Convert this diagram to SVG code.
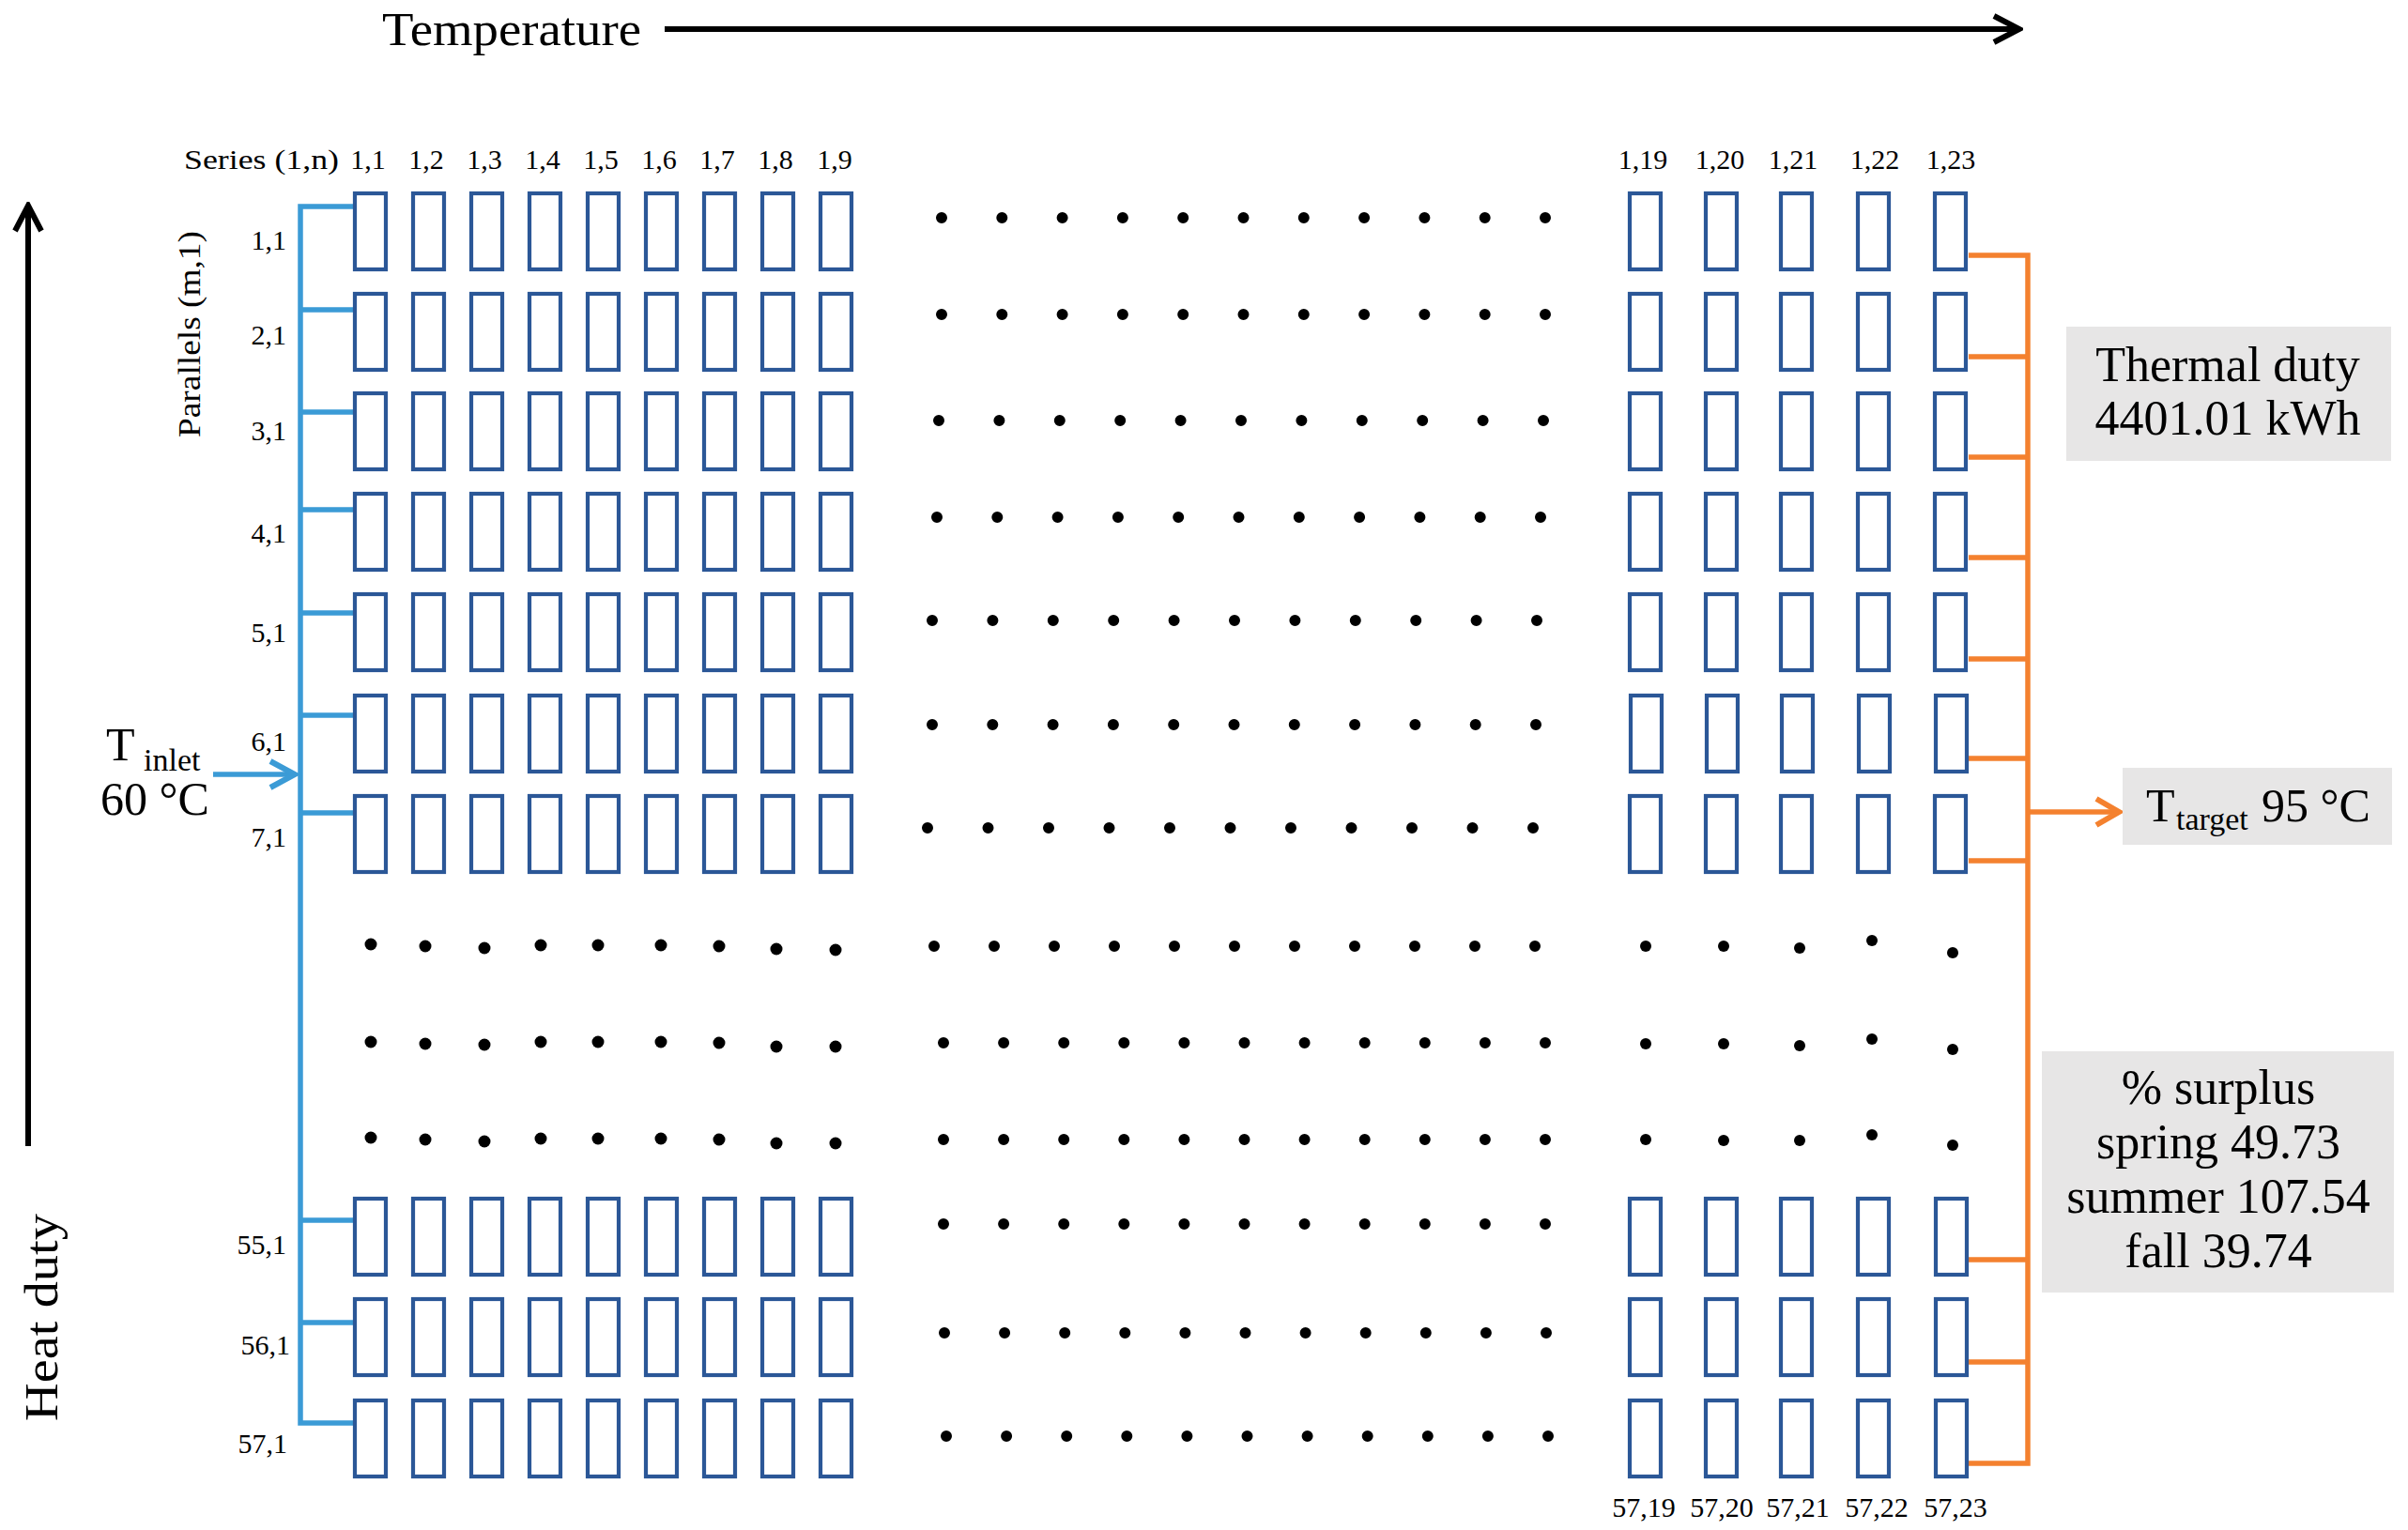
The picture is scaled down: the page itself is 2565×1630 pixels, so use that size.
<svg xmlns="http://www.w3.org/2000/svg" xmlns:xlink="http://www.w3.org/1999/xlink" width="2565" height="1630" viewBox="0 0 2565 1630">
<style>
.t{font-family:"Liberation Serif","Times New Roman",serif;fill:#000}
.big{font-size:52px}
.sm{font-size:30px}
.lbl{font-size:30px;text-anchor:middle}
.rl{font-size:30px;text-anchor:end}
.box{fill:#E7E6E6}
.dots{stroke:#000;stroke-width:12;stroke-linecap:round;fill:none;stroke-dasharray:0 64.3}
.bl{stroke:#3B9BD6;stroke-width:5.5;fill:none}
.or{stroke:#F4812F;stroke-width:5.5;fill:none}
.ax{stroke:#000;stroke-width:6;fill:none}
</style>
<defs>
<rect id="cell" x="2" y="2" width="33" height="81" fill="none" stroke="#2B5797" stroke-width="4.2"/>
<marker id="hk" viewBox="-32 -18 36 36" refX="0" refY="0" markerWidth="36" markerHeight="36" markerUnits="userSpaceOnUse" orient="auto">
<path d="M-27,-14 L0,0 L-27,14" fill="none" stroke="#000" stroke-width="6"/>
</marker>
<marker id="hb" viewBox="-32 -18 36 36" refX="0" refY="0" markerWidth="36" markerHeight="36" markerUnits="userSpaceOnUse" orient="auto">
<path d="M-26,-14 L0,0 L-26,14" fill="none" stroke="#3B9BD6" stroke-width="6"/>
</marker>
<marker id="ho" viewBox="-32 -18 36 36" refX="0" refY="0" markerWidth="36" markerHeight="36" markerUnits="userSpaceOnUse" orient="auto">
<path d="M-24,-14 L0,0 L-24,14" fill="none" stroke="#F4812F" stroke-width="6"/>
</marker>
</defs>
<rect width="2565" height="1630" fill="#fff"/>

<g id="axes">
<text class="t" x="407" y="48" font-size="50" textLength="276" lengthAdjust="spacingAndGlyphs">Temperature</text>
<line class="ax" x1="708" y1="31" x2="2151" y2="31" marker-end="url(#hk)"/>
<line class="ax" x1="30" y1="1221" x2="30" y2="219" marker-end="url(#hk)"/>
<text class="t" transform="translate(61,1514) rotate(-90)" font-size="50" textLength="221" lengthAdjust="spacingAndGlyphs">Heat duty</text>
<text class="t" transform="translate(213,466) rotate(-90)" font-size="34" textLength="220" lengthAdjust="spacingAndGlyphs">Parallels (m,1)</text>
<text class="t sm" x="196" y="180" textLength="165" lengthAdjust="spacingAndGlyphs">Series (1,n)</text>
</g>

<g id="col-labels">
<text class="t lbl" x="392" y="180">1,1</text>
<text class="t lbl" x="454" y="180">1,2</text>
<text class="t lbl" x="516" y="180">1,3</text>
<text class="t lbl" x="578" y="180">1,4</text>
<text class="t lbl" x="640" y="180">1,5</text>
<text class="t lbl" x="702" y="180">1,6</text>
<text class="t lbl" x="764" y="180">1,7</text>
<text class="t lbl" x="826" y="180">1,8</text>
<text class="t lbl" x="889" y="180">1,9</text>
<text class="t lbl" x="1750" y="180">1,19</text>
<text class="t lbl" x="1832" y="180">1,20</text>
<text class="t lbl" x="1910" y="180">1,21</text>
<text class="t lbl" x="1997" y="180">1,22</text>
<text class="t lbl" x="2078" y="180">1,23</text>
<text class="t lbl" x="1751" y="1616">57,19</text>
<text class="t lbl" x="1834" y="1616">57,20</text>
<text class="t lbl" x="1915" y="1616">57,21</text>
<text class="t lbl" x="1999" y="1616">57,22</text>
<text class="t lbl" x="2083" y="1616">57,23</text>
</g>

<g id="row-labels">
<text class="t rl" x="305" y="266">1,1</text>
<text class="t rl" x="305" y="367">2,1</text>
<text class="t rl" x="305" y="469">3,1</text>
<text class="t rl" x="305" y="578">4,1</text>
<text class="t rl" x="305" y="684">5,1</text>
<text class="t rl" x="305" y="800">6,1</text>
<text class="t rl" x="305" y="902">7,1</text>
<text class="t rl" x="305" y="1336">55,1</text>
<text class="t rl" x="309" y="1443">56,1</text>
<text class="t rl" x="306" y="1548">57,1</text>
</g>

<g id="connectors">
<path class="bl" d="M376,220 H320 V1516 H376 M320,330 H376 M320,439 H376 M320,543 H376 M320,653 H376 M320,762 H376 M320,866 H376 M320,1300 H376 M320,1409 H376"/>
<line class="bl" x1="227" y1="825" x2="314" y2="825" marker-end="url(#hb)"/>
<path class="or" d="M2097,272 H2160 V1559 H2097 M2097,380 H2160 M2097,487 H2160 M2097,594 H2160 M2097,702 H2160 M2097,808 H2160 M2097,917 H2160 M2097,1342 H2160 M2097,1451 H2160"/>
<line class="or" x1="2160" y1="865" x2="2257" y2="865" marker-end="url(#ho)"/>
</g>

<g id="inlet">
<text class="t" x="113" y="810" font-size="50">T</text>
<text class="t" x="153" y="821" font-size="34">inlet</text>
<text class="t" x="107" y="868" font-size="50">60 °C</text>
</g>

<g id="target">
<rect class="box" x="2261" y="818" width="287" height="82"/>
<text class="t" x="2286" y="875" font-size="50">T</text>
<text class="t" x="2318" y="884" font-size="34">target</text>
<text class="t" x="2409" y="875" font-size="50">95 °C</text>
</g>

<g id="thermal-duty">
<rect class="box" x="2201" y="348" width="346" height="143"/>
<text class="t big" x="2373" y="406" text-anchor="middle">Thermal duty</text>
<text class="t big" x="2373" y="463" text-anchor="middle">4401.01 kWh</text>
</g>

<g id="surplus">
<rect class="box" x="2175" y="1120" width="375" height="257"/>
<text class="t big" x="2363" y="1176" text-anchor="middle">% surplus</text>
<text class="t big" x="2363" y="1234" text-anchor="middle">spring 49.73</text>
<text class="t big" x="2363" y="1292" text-anchor="middle">summer 107.54</text>
<text class="t big" x="2363" y="1350" text-anchor="middle">fall 39.74</text>
</g>

<g id="dots">
<path class="dots" d="M1003,232 H1646.5 M1003,335 H1646.5"/>
<path class="dots" style="stroke-dasharray:0 64.4" d="M1000,448 H1644.5"/>
<path class="dots" style="stroke-dasharray:0 64.3" d="M998,551 H1641.5"/>
<path class="dots" style="stroke-dasharray:0 64.4" d="M993,661 H1637.5"/>
<path class="dots" style="stroke-dasharray:0 64.3" d="M993,772 H1636.5"/>
<path class="dots" style="stroke-dasharray:0 64.5" d="M988,882 H1633.5"/>
<path class="dots" style="stroke-dasharray:0 64" d="M995,1008 H1635.5"/>
<path class="dots" style="stroke-dasharray:0 64.1" d="M1005,1111 H1646.5 M1005,1214 H1646.5 M1005,1304 H1646.5 M1006,1420 H1647.5 M1008,1530 H1649.5"/>
<g fill="#000">
<circle cx="395" cy="1006" r="6.5"/><circle cx="453" cy="1008" r="6.5"/><circle cx="516" cy="1010" r="6.5"/><circle cx="576" cy="1007" r="6.5"/><circle cx="637" cy="1007" r="6.5"/><circle cx="704" cy="1007" r="6.5"/><circle cx="766" cy="1008" r="6.5"/><circle cx="827" cy="1011" r="6.5"/><circle cx="890" cy="1012" r="6.5"/>
<circle cx="395" cy="1110" r="6.5"/><circle cx="453" cy="1112" r="6.5"/><circle cx="516" cy="1113" r="6.5"/><circle cx="576" cy="1110" r="6.5"/><circle cx="637" cy="1110" r="6.5"/><circle cx="704" cy="1110" r="6.5"/><circle cx="766" cy="1111" r="6.5"/><circle cx="827" cy="1115" r="6.5"/><circle cx="890" cy="1115" r="6.5"/>
<circle cx="395" cy="1212" r="6.5"/><circle cx="453" cy="1214" r="6.5"/><circle cx="516" cy="1216" r="6.5"/><circle cx="576" cy="1213" r="6.5"/><circle cx="637" cy="1213" r="6.5"/><circle cx="704" cy="1213" r="6.5"/><circle cx="766" cy="1214" r="6.5"/><circle cx="827" cy="1218" r="6.5"/><circle cx="890" cy="1218" r="6.5"/>
<circle cx="1753" cy="1008" r="6"/><circle cx="1836" cy="1008" r="6"/><circle cx="1917" cy="1010" r="6"/><circle cx="1994" cy="1002" r="6"/><circle cx="2080" cy="1015" r="6"/>
<circle cx="1753" cy="1112" r="6"/><circle cx="1836" cy="1112" r="6"/><circle cx="1917" cy="1114" r="6"/><circle cx="1994" cy="1107" r="6"/><circle cx="2080" cy="1118" r="6"/>
<circle cx="1753" cy="1214" r="6"/><circle cx="1836" cy="1215" r="6"/><circle cx="1917" cy="1215" r="6"/><circle cx="1994" cy="1209" r="6"/><circle cx="2080" cy="1220" r="6"/>
</g>
</g>

<g id="cells">
<g id="r1">
<g id="n1_1"><use href="#cell" x="376" y="204"/></g><g id="n1_2"><use href="#cell" x="438" y="204"/></g><g id="n1_3"><use href="#cell" x="500" y="204"/></g><g id="n1_4"><use href="#cell" x="562" y="204"/></g><g id="n1_5"><use href="#cell" x="624" y="204"/></g><g id="n1_6"><use href="#cell" x="686" y="204"/></g><g id="n1_7"><use href="#cell" x="748" y="204"/></g><g id="n1_8"><use href="#cell" x="810" y="204"/></g><g id="n1_9"><use href="#cell" x="872" y="204"/></g>
<g id="n1_19"><use href="#cell" x="1734" y="204"/></g><g id="n1_20"><use href="#cell" x="1815" y="204"/></g><g id="n1_21"><use href="#cell" x="1895" y="204"/></g><g id="n1_22"><use href="#cell" x="1977" y="204"/></g><g id="n1_23"><use href="#cell" x="2059" y="204"/></g>
</g>
<g id="r2">
<g id="n2_1"><use href="#cell" x="376" y="311"/></g><g id="n2_2"><use href="#cell" x="438" y="311"/></g><g id="n2_3"><use href="#cell" x="500" y="311"/></g><g id="n2_4"><use href="#cell" x="562" y="311"/></g><g id="n2_5"><use href="#cell" x="624" y="311"/></g><g id="n2_6"><use href="#cell" x="686" y="311"/></g><g id="n2_7"><use href="#cell" x="748" y="311"/></g><g id="n2_8"><use href="#cell" x="810" y="311"/></g><g id="n2_9"><use href="#cell" x="872" y="311"/></g>
<g id="n2_19"><use href="#cell" x="1734" y="311"/></g><g id="n2_20"><use href="#cell" x="1815" y="311"/></g><g id="n2_21"><use href="#cell" x="1895" y="311"/></g><g id="n2_22"><use href="#cell" x="1977" y="311"/></g><g id="n2_23"><use href="#cell" x="2059" y="311"/></g>
</g>
<g id="r3">
<g id="n3_1"><use href="#cell" x="376" y="417"/></g><g id="n3_2"><use href="#cell" x="438" y="417"/></g><g id="n3_3"><use href="#cell" x="500" y="417"/></g><g id="n3_4"><use href="#cell" x="562" y="417"/></g><g id="n3_5"><use href="#cell" x="624" y="417"/></g><g id="n3_6"><use href="#cell" x="686" y="417"/></g><g id="n3_7"><use href="#cell" x="748" y="417"/></g><g id="n3_8"><use href="#cell" x="810" y="417"/></g><g id="n3_9"><use href="#cell" x="872" y="417"/></g>
<g id="n3_19"><use href="#cell" x="1734" y="417"/></g><g id="n3_20"><use href="#cell" x="1815" y="417"/></g><g id="n3_21"><use href="#cell" x="1895" y="417"/></g><g id="n3_22"><use href="#cell" x="1977" y="417"/></g><g id="n3_23"><use href="#cell" x="2059" y="417"/></g>
</g>
<g id="r4">
<g id="n4_1"><use href="#cell" x="376" y="524"/></g><g id="n4_2"><use href="#cell" x="438" y="524"/></g><g id="n4_3"><use href="#cell" x="500" y="524"/></g><g id="n4_4"><use href="#cell" x="562" y="524"/></g><g id="n4_5"><use href="#cell" x="624" y="524"/></g><g id="n4_6"><use href="#cell" x="686" y="524"/></g><g id="n4_7"><use href="#cell" x="748" y="524"/></g><g id="n4_8"><use href="#cell" x="810" y="524"/></g><g id="n4_9"><use href="#cell" x="872" y="524"/></g>
<g id="n4_19"><use href="#cell" x="1734" y="524"/></g><g id="n4_20"><use href="#cell" x="1815" y="524"/></g><g id="n4_21"><use href="#cell" x="1895" y="524"/></g><g id="n4_22"><use href="#cell" x="1977" y="524"/></g><g id="n4_23"><use href="#cell" x="2059" y="524"/></g>
</g>
<g id="r5">
<g id="n5_1"><use href="#cell" x="376" y="631"/></g><g id="n5_2"><use href="#cell" x="438" y="631"/></g><g id="n5_3"><use href="#cell" x="500" y="631"/></g><g id="n5_4"><use href="#cell" x="562" y="631"/></g><g id="n5_5"><use href="#cell" x="624" y="631"/></g><g id="n5_6"><use href="#cell" x="686" y="631"/></g><g id="n5_7"><use href="#cell" x="748" y="631"/></g><g id="n5_8"><use href="#cell" x="810" y="631"/></g><g id="n5_9"><use href="#cell" x="872" y="631"/></g>
<g id="n5_19"><use href="#cell" x="1734" y="631"/></g><g id="n5_20"><use href="#cell" x="1815" y="631"/></g><g id="n5_21"><use href="#cell" x="1895" y="631"/></g><g id="n5_22"><use href="#cell" x="1977" y="631"/></g><g id="n5_23"><use href="#cell" x="2059" y="631"/></g>
</g>
<g id="r6">
<g id="n6_1"><use href="#cell" x="376" y="739"/></g><g id="n6_2"><use href="#cell" x="438" y="739"/></g><g id="n6_3"><use href="#cell" x="500" y="739"/></g><g id="n6_4"><use href="#cell" x="562" y="739"/></g><g id="n6_5"><use href="#cell" x="624" y="739"/></g><g id="n6_6"><use href="#cell" x="686" y="739"/></g><g id="n6_7"><use href="#cell" x="748" y="739"/></g><g id="n6_8"><use href="#cell" x="810" y="739"/></g><g id="n6_9"><use href="#cell" x="872" y="739"/></g>
<g id="n6_19"><use href="#cell" x="1735" y="739"/></g><g id="n6_20"><use href="#cell" x="1816" y="739"/></g><g id="n6_21"><use href="#cell" x="1896" y="739"/></g><g id="n6_22"><use href="#cell" x="1978" y="739"/></g><g id="n6_23"><use href="#cell" x="2060" y="739"/></g>
</g>
<g id="r7">
<g id="n7_1"><use href="#cell" x="376" y="846"/></g><g id="n7_2"><use href="#cell" x="438" y="846"/></g><g id="n7_3"><use href="#cell" x="500" y="846"/></g><g id="n7_4"><use href="#cell" x="562" y="846"/></g><g id="n7_5"><use href="#cell" x="624" y="846"/></g><g id="n7_6"><use href="#cell" x="686" y="846"/></g><g id="n7_7"><use href="#cell" x="748" y="846"/></g><g id="n7_8"><use href="#cell" x="810" y="846"/></g><g id="n7_9"><use href="#cell" x="872" y="846"/></g>
<g id="n7_19"><use href="#cell" x="1734" y="846"/></g><g id="n7_20"><use href="#cell" x="1815" y="846"/></g><g id="n7_21"><use href="#cell" x="1895" y="846"/></g><g id="n7_22"><use href="#cell" x="1977" y="846"/></g><g id="n7_23"><use href="#cell" x="2059" y="846"/></g>
</g>
<g id="r55">
<g id="n55_1"><use href="#cell" x="376" y="1275"/></g><g id="n55_2"><use href="#cell" x="438" y="1275"/></g><g id="n55_3"><use href="#cell" x="500" y="1275"/></g><g id="n55_4"><use href="#cell" x="562" y="1275"/></g><g id="n55_5"><use href="#cell" x="624" y="1275"/></g><g id="n55_6"><use href="#cell" x="686" y="1275"/></g><g id="n55_7"><use href="#cell" x="748" y="1275"/></g><g id="n55_8"><use href="#cell" x="810" y="1275"/></g><g id="n55_9"><use href="#cell" x="872" y="1275"/></g>
<g id="n55_19"><use href="#cell" x="1734" y="1275"/></g><g id="n55_20"><use href="#cell" x="1815" y="1275"/></g><g id="n55_21"><use href="#cell" x="1895" y="1275"/></g><g id="n55_22"><use href="#cell" x="1977" y="1275"/></g><g id="n55_23"><use href="#cell" x="2060" y="1275"/></g>
</g>
<g id="r56">
<g id="n56_1"><use href="#cell" x="376" y="1382"/></g><g id="n56_2"><use href="#cell" x="438" y="1382"/></g><g id="n56_3"><use href="#cell" x="500" y="1382"/></g><g id="n56_4"><use href="#cell" x="562" y="1382"/></g><g id="n56_5"><use href="#cell" x="624" y="1382"/></g><g id="n56_6"><use href="#cell" x="686" y="1382"/></g><g id="n56_7"><use href="#cell" x="748" y="1382"/></g><g id="n56_8"><use href="#cell" x="810" y="1382"/></g><g id="n56_9"><use href="#cell" x="872" y="1382"/></g>
<g id="n56_19"><use href="#cell" x="1734" y="1382"/></g><g id="n56_20"><use href="#cell" x="1815" y="1382"/></g><g id="n56_21"><use href="#cell" x="1895" y="1382"/></g><g id="n56_22"><use href="#cell" x="1977" y="1382"/></g><g id="n56_23"><use href="#cell" x="2060" y="1382"/></g>
</g>
<g id="r57">
<g id="n57_1"><use href="#cell" x="376" y="1490"/></g><g id="n57_2"><use href="#cell" x="438" y="1490"/></g><g id="n57_3"><use href="#cell" x="500" y="1490"/></g><g id="n57_4"><use href="#cell" x="562" y="1490"/></g><g id="n57_5"><use href="#cell" x="624" y="1490"/></g><g id="n57_6"><use href="#cell" x="686" y="1490"/></g><g id="n57_7"><use href="#cell" x="748" y="1490"/></g><g id="n57_8"><use href="#cell" x="810" y="1490"/></g><g id="n57_9"><use href="#cell" x="872" y="1490"/></g>
<g id="n57_19"><use href="#cell" x="1734" y="1490"/></g><g id="n57_20"><use href="#cell" x="1815" y="1490"/></g><g id="n57_21"><use href="#cell" x="1895" y="1490"/></g><g id="n57_22"><use href="#cell" x="1977" y="1490"/></g><g id="n57_23"><use href="#cell" x="2060" y="1490"/></g>
</g>
</g>
</svg>
